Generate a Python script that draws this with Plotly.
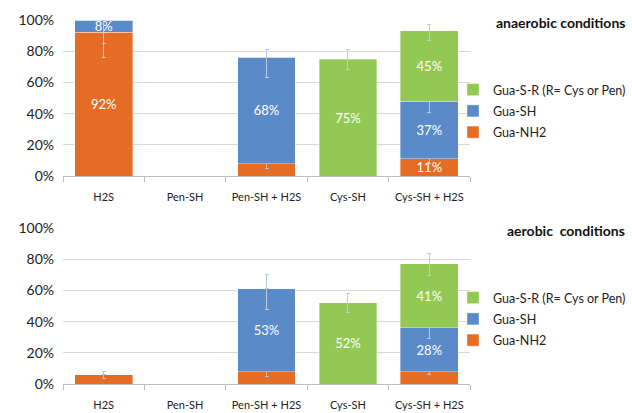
import plotly.graph_objects as go

categories = ["H2S", "Pen-SH", "Pen-SH + H2S", "Cys-SH", "Cys-SH + H2S"]
series_names = ["Gua-NH2", "Gua-SH", "Gua-S-R (R= Cys or Pen)"]
legend_ranks = [3, 2, 1]
colors = ["#E46C24", "#5A8BC8", "#92C955"]

# anaerobic conditions (percent)
an_nh2 = [92, None, 8, 0, 11]
an_sh = [8, None, 68, 0, 37]
an_sr = [0, None, 0, 75, 45]
an_nh2_lbl = ["92%", "", "", "", "11%"]
an_sh_lbl = ["8%", "", "68%", "", "37%"]
an_sr_lbl = ["", "", "", "75%", "45%"]
an_nh2_ep = [0, 0, 4.4, 3, 3]
an_nh2_em = [16, 0, 3, 0, 3]
an_sh_ep = [0, 0, 5, 0, 7]
an_sh_em = [15, 0, 13, 0, 7]
an_sr_ep = [0, 0, 0, 6, 4]
an_sr_em = [0, 0, 0, 6.5, 6]

# aerobic conditions (percent)
ae_nh2 = [6, None, 8, 0, 8]
ae_sh = [0, None, 53, 0, 28]
ae_sr = [0, None, 0, 52, 41]
ae_nh2_lbl = ["", "", "", "", ""]
ae_sh_lbl = ["", "", "53%", "", "28%"]
ae_sr_lbl = ["", "", "", "52%", "41%"]
ae_nh2_ep = [1.7, 0, 4.6, 0, 3]
ae_nh2_em = [2.2, 0, 3.3, 0, 2]
ae_sh_ep = [0, 0, 9.5, 0, 7]
ae_sh_em = [0, 0, 13.5, 0, 7]
ae_sr_ep = [0, 0, 0, 5.7, 6.8]
ae_sr_em = [0, 0, 0, 6, 7.5]

y_ticks = [0, 20, 40, 60, 80, 100]
y_tick_text = ["0%", "20%", "40%", "60%", "80%", "100%"]

LFONT = "Lato"
ERR_COLOR = "#B9CBE4"

fig = go.Figure()

panels = [
    ("x", "y", "legend", [an_nh2, an_sh, an_sr], [an_nh2_lbl, an_sh_lbl, an_sr_lbl],
     [an_nh2_ep, an_sh_ep, an_sr_ep], [an_nh2_em, an_sh_em, an_sr_em]),
    ("x2", "y2", "legend2", [ae_nh2, ae_sh, ae_sr], [ae_nh2_lbl, ae_sh_lbl, ae_sr_lbl],
     [ae_nh2_ep, ae_sh_ep, ae_sr_ep], [ae_nh2_em, ae_sh_em, ae_sr_em]),
]

for xa, ya, lg, vals, lbls, eps, ems in panels:
    for name, rank, col, v, l, ep, em in zip(series_names, legend_ranks, colors, vals, lbls, eps, ems):
        fig.add_trace(go.Bar(
            x=categories, y=v, name=name, xaxis=xa, yaxis=ya, legend=lg,
            legendgroup=lg + name, legendrank=rank,
            marker=dict(color=col, line=dict(color="rgba(255,255,255,0.6)", width=0.6)),
            text=l, textposition="inside", insidetextanchor="middle",
            textangle=0, constraintext="none",
            textfont=dict(color="white", size=13, family=LFONT),
            error_y=dict(type="data", symmetric=False, array=ep, arrayminus=em,
                         color=ERR_COLOR, thickness=1, width=2),
            hoverinfo="skip",
        ))

axis_common = dict(showgrid=False, ticks="outside", tickson="boundaries", ticklen=5,
                   tickcolor="#BFBFBF", showline=True, linecolor="#BFBFBF",
                   tickfont=dict(size=11, family=LFONT, color="#222"), tickangle=0,
                   ticklabelstandoff=11, fixedrange=True)
yaxis_common = dict(range=[0, 100], tickvals=y_ticks, ticktext=y_tick_text,
                    showgrid=True, gridcolor="#D9D9D9", gridwidth=1, zeroline=False,
                    showline=False, ticks="", tickfont=dict(size=14, family=LFONT, color="#222"),
                    ticklabelstandoff=8, fixedrange=True)

x0, x1 = 63 / 632, 470 / 632
top_dom = [1 - 176 / 413, 1 - 20 / 413]
bot_dom = [1 - 384 / 413, 1 - 228 / 413]

legend_common = dict(traceorder="grouped", tracegroupgap=2,
                     font=dict(size=12.5, family=LFONT, color="#222"),
                     bgcolor="rgba(0,0,0,0)", itemwidth=30, xanchor="left", yanchor="top")

fig.update_layout(
    width=632, height=413,
    margin=dict(l=0, r=0, t=0, b=0, autoexpand=False),
    paper_bgcolor="white", plot_bgcolor="white",
    barmode="stack", bargap=0.29,
    xaxis=dict(domain=[x0, x1], anchor="y", **axis_common),
    yaxis=dict(domain=top_dom, anchor="x", **yaxis_common),
    xaxis2=dict(domain=[x0, x1], anchor="y2", **axis_common),
    yaxis2=dict(domain=bot_dom, anchor="x2", **yaxis_common),
    legend=dict(x=453 / 632, y=1 - 75 / 413, **legend_common),
    legend2=dict(x=453 / 632, y=1 - 283 / 413, **legend_common),
    showlegend=True,
    annotations=[
        dict(text="<b>anaerobic conditions</b>", x=627 / 632, y=1 - 22 / 413,
             xref="paper", yref="paper", xanchor="right", yanchor="middle", showarrow=False,
             font=dict(size=14, family=LFONT, color="#111")),
        dict(text="<b>aerobic  conditions</b>", x=627 / 632, y=1 - 231 / 413,
             xref="paper", yref="paper", xanchor="right", yanchor="middle", showarrow=False,
             font=dict(size=14, family=LFONT, color="#111")),
    ],
)

fig.write_html(
    "out.html",
    config={"displayModeBar": False, "staticPlot": True},
    post_script="document.body.style.margin='0';document.body.style.overflow='hidden';",
)
